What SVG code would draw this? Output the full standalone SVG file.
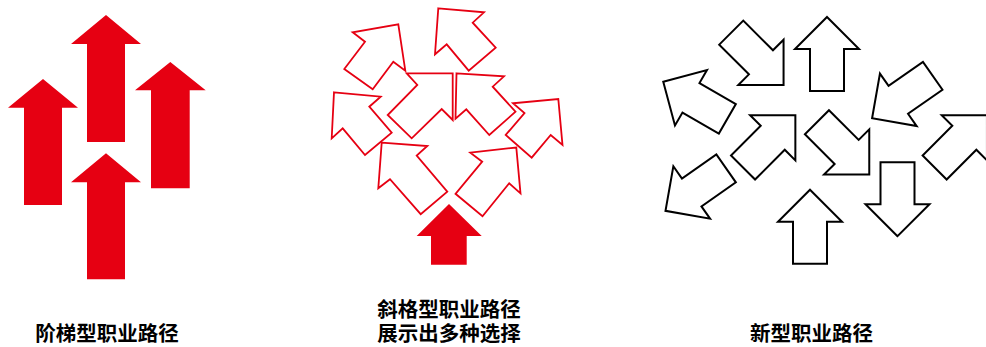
<svg xmlns="http://www.w3.org/2000/svg" xmlns:xlink="http://www.w3.org/1999/xlink" width="986" height="347" viewBox="0 0 986 347">
<defs>
<style>
.solid{fill:#e60012;stroke:none}
.red{fill:#fff;stroke:#e60012;stroke-width:1.8;stroke-linejoin:miter}
.blk{fill:#fff;stroke:#000;stroke-width:2;stroke-linejoin:miter}
.lbl{font-family:"Noto Sans CJK SC","Noto Sans",sans-serif;font-weight:bold;font-size:20.5px;fill:#000;text-anchor:middle}
</style>
<path id="ar" d="M0,-37 L32,-5 L17,-5 L17,37 L-17,37 L-17,-5 L-32,-5 Z"/>
</defs>
<rect width="986" height="347" fill="#fff"/>
<g id="ladder">
<polygon class="solid" points="43,79 78,107.7 62,107.7 62,205 24,205 24,107.7 8,107.7"/>
<polygon class="solid" points="106,15 141,44 125,44 125,142 87,142 87,44 71,44"/>
<polygon class="solid" points="170.3,62 205.7,90.3 189.7,90.3 189.7,188.3 151,188.3 151,90.3 135,90.3"/>
<polygon class="solid" points="106,153.3 141,182.3 125,182.3 125,279.3 87,279.3 87,182.3 71,182.3"/>
</g>
<g id="lattice">
<polygon class="red" points="398.3,24.3 405.3,70.7 393.3,61.7 372.7,89.3 344.3,69 365,41.7 352.7,32.3"/>
<polygon class="red" points="438.3,8.3 484,12.3 472.7,22.7 495.7,47.7 468.7,70.7 446.7,44.3 435,54.3"/>
<polygon class="red" points="452.7,73.3 452.7,120 441.7,109 411.7,138.3 387.7,115 417.3,85 406.7,73.3"/>
<polygon class="red" points="456.5,73.3 504,76.3 492.7,86.7 515.5,111.7 489.3,135 466.3,109.3 455.5,118.8"/>
<polygon class="red" points="334,92.3 380.7,96.7 369.3,106.7 391.7,132.7 365,155 342.7,128.3 331.7,138.3"/>
<polygon class="red" points="558.3,99 562.5,145 550.7,135 531.7,157.7 505.7,135 524.5,113 513,103.3"/>
<polygon class="red" points="381.7,142.7 427.3,146 416.7,155.5 447.3,191.7 420.7,214.2 390,179.2 378.3,188.3"/>
<polygon class="red" points="516.3,147.5 520.5,193.3 509.2,183.3 482.5,216.3 455.5,193.8 482.2,161.7 470.3,152.7"/>
<polygon class="solid" points="449,204 481.7,236 466.7,236 466.7,264.7 431,264.7 431,236 416.7,236"/>
</g>
<g id="newtype">
<use xlink:href="#ar" class="blk" transform="translate(757.4,58.8) rotate(135)"/>
<use xlink:href="#ar" class="blk" transform="translate(827,54)"/>
<use xlink:href="#ar" class="blk" transform="translate(695.3,100.3) rotate(-60)"/>
<use xlink:href="#ar" class="blk" transform="translate(769.2,141.3) rotate(45)"/>
<use xlink:href="#ar" class="blk" transform="translate(843.1,148.4) rotate(135)"/>
<use xlink:href="#ar" class="blk" transform="translate(902.4,97) rotate(-125)"/>
<use xlink:href="#ar" class="blk" transform="translate(960.8,141.3) rotate(45)"/>
<use xlink:href="#ar" class="blk" transform="translate(695.8,189.6) rotate(-125)"/>
<use xlink:href="#ar" class="blk" transform="translate(810,226.7)"/>
<use xlink:href="#ar" class="blk" transform="translate(897.5,199.2) rotate(180)"/>
</g>
<g id="labels">
<text class="lbl" x="107" y="341">阶梯型职业路径</text>
<text class="lbl" x="449" y="317">斜格型职业路径</text>
<text class="lbl" x="449" y="341">展示出多种选择</text>
<text class="lbl" x="811.5" y="341">新型职业路径</text>
</g>
</svg>
